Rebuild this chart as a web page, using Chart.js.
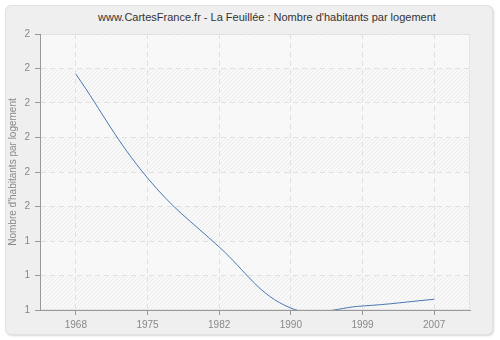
<!DOCTYPE html>
<html lang="fr">
<head>
  <meta charset="UTF-8" />
  <title>La Feuillée : Nombre d'habitants par logement</title>
  <script src="https://cdn.jsdelivr.net/npm/chart.js"></script>
  <style>
    html, body {
      margin: 0;
      padding: 0;
      background: #ffffff;
    }
    #panel {
      position: absolute;
      left: 5px;
      top: 5px;
      width: 486px;
      height: 328px;
      background: #efefef;
      border: 1px solid #e2e2e2;
      border-radius: 6px;
      box-shadow: 1px 1px 2px #d8d8d8;
    }
    #title {
      position: absolute;
      left: 67px;
      top: 11px;
      width: 400px;
      text-align: center;
      font-family: 'Liberation Sans', Arial, sans-serif;
      font-size: 11px;
      line-height: 13px;
      color: #333333;
      white-space: nowrap;
    }
    #wrap {
      position: absolute;
      left: 0;
      top: 0;
      width: 500px;
      height: 340px;
    }
  </style>
</head>
<body>
  <div id="panel"></div>
  <div id="title">www.CartesFrance.fr - La Feuillée : Nombre d'habitants par logement</div>
  <div id="wrap"><canvas id="chart" width="500" height="340"></canvas></div>
  <script>
    const years = ['1968', '1975', '1982', '1990', '1999', '2007'];
    const habitantsParLogement = [2.231, 1.689, 1.329, 1.010, 1.021, 1.056];
    const yMin = 1, yMax = 2.44, yStep = 0.18;
    const yTitle = "Nombre d'habitants par logement";

    // hatched background of the plot area
    function makeHatch() {
      const c = document.createElement('canvas');
      c.width = 4;
      c.height = 4;
      const g = c.getContext('2d');
      g.fillStyle = '#f8f8f8';
      g.fillRect(0, 0, 4, 4);
      g.fillStyle = '#ececec';
      for (let i = 0; i < 4; i++) {
        g.fillRect(i, 3 - i, 1, 1);
      }
      return c;
    }

    const plotBackground = {
      id: 'plotBackground',
      beforeDraw: (chart) => {
        const ctx = chart.ctx;
        const a = chart.chartArea;
        const y = chart.scales.y;
        ctx.save();
        ctx.fillStyle = ctx.createPattern(makeHatch(), 'repeat');
        ctx.fillRect(a.left, a.top, a.right - a.left, a.bottom - a.top);
        // lighter bands every other grid row
        const ticks = y.ticks;
        ctx.fillStyle = 'rgba(250,250,250,0.6)';
        for (let i = 1; i < ticks.length - 1; i += 2) {
          const y0 = y.getPixelForValue(ticks[i + 1].value);
          const y1 = y.getPixelForValue(ticks[i].value);
          ctx.fillRect(a.left, y0, a.right - a.left, y1 - y0);
        }
        ctx.strokeStyle = '#e4e4e4';
        ctx.lineWidth = 1;
        ctx.strokeRect(a.left + 0.5, a.top + 0.5, a.right - a.left - 1, a.bottom - a.top - 1);
        ctx.restore();
      }
    };

    new Chart(document.getElementById('chart'), {
      type: 'line',
      data: {
        labels: years,
        datasets: [{
          data: habitantsParLogement,
          borderColor: '#4a78b0',
          borderWidth: 1,
          pointRadius: 0,
          fill: false,
          tension: 0.4
        }]
      },
      options: {
        responsive: false,
        animation: false,
        elements: { line: { capBezierPoints: false } },
        layout: { padding: { left: 0, right: 30, top: 34, bottom: 0 } },
        plugins: {
          legend: { display: false },
          tooltip: { enabled: false },
          title: { display: false }
        },
        scales: {
          x: {
            offset: true,
            grid: {
              offset: false,
              color: '#e0e0e0',
              tickColor: '#999999',
              tickLength: 5
            },
            border: { color: '#999999', dash: [5, 4] },
            ticks: {
              color: '#888888',
              font: { family: 'Liberation Sans', size: 10 },
              padding: 4,
              maxRotation: 0
            },
            afterFit: (scale) => { scale.height = 30; }
          },
          y: {
            min: yMin,
            max: yMax,
            grid: {
              color: '#e0e0e0',
              tickColor: '#999999',
              tickLength: 5
            },
            border: { color: '#999999', dash: [5, 4] },
            ticks: {
              stepSize: yStep,
              color: '#888888',
              font: { family: 'Liberation Sans', size: 10 },
              padding: 5,
              callback: (v) => Math.round(v)
            },
            title: {
              display: true,
              text: yTitle,
              color: '#888888',
              font: { family: 'Liberation Sans', size: 10 },
              padding: { top: 7, bottom: 0 }
            },
            afterFit: (scale) => { scale.width = 40; }
          }
        }
      },
      plugins: [plotBackground]
    });
  </script>
</body>
</html>
